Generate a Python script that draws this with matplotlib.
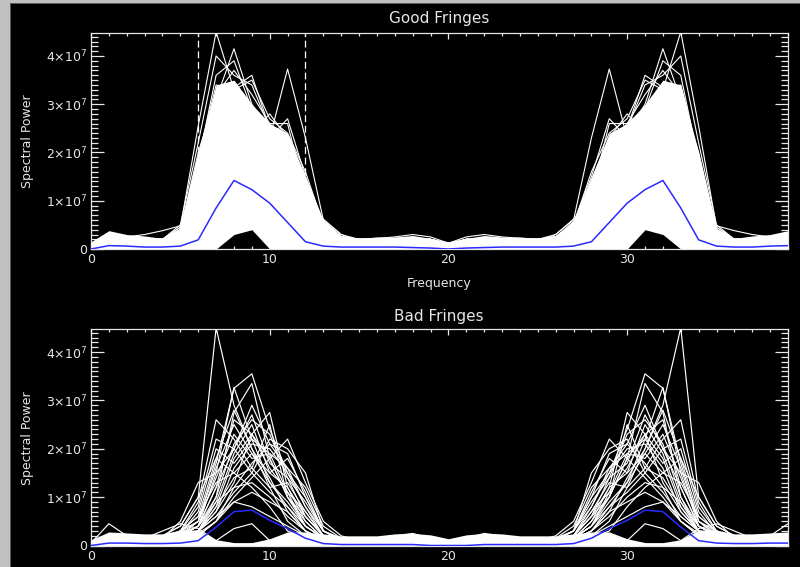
import numpy as np
import matplotlib
matplotlib.use("Agg")
import matplotlib.pyplot as plt
from matplotlib.ticker import MultipleLocator, FixedLocator, FixedFormatter
from matplotlib.patches import Rectangle

# ---------------- data (spectral power in units of 1e7) ----------------
freq = list(range(40))
UNIT = 1e7

y_ticks = [0, 1, 2, 3, 4]
y_tick_labels = ["0", r"$1{\times}10^{7}$", r"$2{\times}10^{7}$", r"$3{\times}10^{7}$", r"$4{\times}10^{7}$"]
x_ticks = [0, 10, 20, 30]
good_window = [6, 12]

# --- Good fringes ---
good_band_top = [0.15,0.38,0.30,0.27,0.22,0.42,2.00,3.40,3.50,3.00,2.60,2.40,1.50,0.60,0.28,0.22,0.25,0.25,0.28,0.22,0.15,
                 0.22,0.28,0.25,0.25,0.22,0.28,0.60,1.50,2.40,2.60,3.00,3.50,3.40,2.00,0.42,0.22,0.27,0.30,0.38]
good_band_bottom = [0,0,0,0,0,0,0,0,0.30,0.40,0,0,0,0,0,0,0,0,0,0,0,
                    0,0,0,0,0,0,0,0,0,0,0.40,0.30,0,0,0,0,0,0,0]
good_mean = [0.00,0.07,0.06,0.04,0.04,0.06,0.19,0.85,1.42,1.23,0.95,0.55,0.15,0.06,0.04,0.04,0.04,0.04,0.03,0.02,0.00,
             0.02,0.03,0.04,0.04,0.04,0.04,0.06,0.15,0.55,0.95,1.23,1.42,0.85,0.19,0.06,0.04,0.04,0.06,0.07]

good_s01 = [0.10,0.20,0.20,0.20,0.20,0.45,2.55,4.50,3.30,2.60,2.10,1.80,0.90,0.35,0.20,0.20,0.20,0.20,0.20,0.20,0.10,
            0.20,0.20,0.20,0.20,0.20,0.20,0.35,0.90,1.80,2.10,2.60,3.30,4.50,2.55,0.45,0.20,0.20,0.20,0.20]
good_s02 = [0.10,0.25,0.20,0.20,0.20,0.35,1.60,3.10,4.15,3.00,2.40,2.00,0.90,0.40,0.20,0.20,0.20,0.20,0.20,0.20,0.10,
            0.20,0.20,0.20,0.20,0.20,0.20,0.40,0.90,2.00,2.40,3.00,4.15,3.10,1.60,0.35,0.20,0.20,0.20,0.25]
good_s03 = [0.10,0.20,0.20,0.20,0.20,0.40,1.90,2.80,3.35,3.60,2.50,2.20,1.30,0.45,0.25,0.20,0.20,0.20,0.20,0.20,0.10,
            0.20,0.20,0.20,0.20,0.20,0.25,0.45,1.30,2.20,2.50,3.60,3.35,2.80,1.90,0.40,0.20,0.20,0.20,0.20]
good_s04 = [0.10,0.20,0.20,0.15,0.20,0.30,1.50,2.40,2.60,2.20,2.30,3.73,2.30,0.60,0.30,0.15,0.20,0.20,0.20,0.20,0.10,
            0.20,0.20,0.20,0.20,0.15,0.30,0.60,2.30,3.73,2.30,2.20,2.60,2.40,1.50,0.30,0.20,0.15,0.20,0.20]
good_s05 = [0.10,0.20,0.20,0.20,0.20,0.40,1.80,3.00,3.20,2.40,2.80,2.30,1.40,0.50,0.20,0.20,0.20,0.20,0.20,0.20,0.10,
            0.20,0.20,0.20,0.20,0.20,0.20,0.50,1.40,2.30,2.80,2.40,3.20,3.00,1.80,0.40,0.20,0.20,0.20,0.20]
good_s06 = [0.10,0.20,0.20,0.20,0.20,0.40,1.70,2.60,2.90,2.50,2.30,2.70,1.50,0.55,0.25,0.20,0.20,0.20,0.20,0.20,0.10,
            0.20,0.20,0.20,0.20,0.20,0.25,0.55,1.50,2.70,2.30,2.50,2.90,2.60,1.70,0.40,0.20,0.20,0.20,0.20]
good_s07 = [0.10,0.20,0.20,0.20,0.20,0.50,2.20,4.00,3.60,3.40,2.50,2.00,1.10,0.45,0.25,0.20,0.20,0.20,0.20,0.20,0.10,
            0.20,0.20,0.20,0.20,0.20,0.25,0.45,1.10,2.00,2.50,3.40,3.60,4.00,2.20,0.50,0.20,0.20,0.20,0.20]
good_s08 = [0.10,0.20,0.20,0.20,0.20,0.40,2.00,3.20,3.70,3.20,2.60,2.10,1.00,0.40,0.25,0.20,0.20,0.20,0.20,0.20,0.10,
            0.20,0.20,0.20,0.20,0.20,0.25,0.40,1.00,2.10,2.60,3.20,3.70,3.20,2.00,0.40,0.20,0.20,0.20,0.20]
good_s09 = [0.10,0.20,0.20,0.20,0.20,0.35,1.90,3.40,3.30,3.50,2.70,2.40,1.60,0.50,0.25,0.20,0.20,0.20,0.20,0.20,0.10,
            0.20,0.20,0.20,0.20,0.20,0.25,0.50,1.60,2.40,2.70,3.50,3.30,3.40,1.90,0.35,0.20,0.20,0.20,0.20]
good_s10 = [0.10,0.20,0.20,0.20,0.20,0.45,1.80,3.60,3.90,2.90,2.60,2.60,1.10,0.40,0.25,0.20,0.20,0.20,0.20,0.20,0.10,
            0.20,0.20,0.20,0.20,0.20,0.25,0.40,1.10,2.60,2.60,2.90,3.90,3.60,1.80,0.45,0.20,0.20,0.20,0.20]
good_s11 = [0.10,0.30,0.25,0.30,0.38,0.48,1.20,2.00,2.30,2.00,1.90,1.70,1.00,0.62,0.30,0.20,0.22,0.25,0.30,0.25,0.12,
            0.25,0.30,0.25,0.22,0.20,0.30,0.62,1.00,1.70,1.90,2.00,2.30,2.00,1.20,0.48,0.38,0.30,0.25,0.30]

# --- Bad fringes ---
bad_band_top = [0.12,0.28,0.26,0.24,0.24,0.32,0.32,0.12,0.06,0.06,0.14,0.28,0.28,0.24,0.20,0.20,0.20,0.24,0.25,0.22,0.14,
                0.22,0.25,0.24,0.20,0.20,0.20,0.24,0.28,0.28,0.14,0.06,0.06,0.12,0.32,0.32,0.24,0.24,0.26,0.28]
bad_mean = [0.00,0.05,0.05,0.04,0.04,0.05,0.10,0.38,0.70,0.73,0.52,0.35,0.15,0.04,0.02,0.02,0.02,0.02,0.02,0.00,0.00,
            0.00,0.02,0.02,0.02,0.02,0.02,0.04,0.15,0.35,0.52,0.73,0.70,0.38,0.10,0.05,0.04,0.04,0.05,0.05]

bad_s01 = [0.05,0.15,0.15,0.12,0.20,0.40,1.00,4.50,2.90,2.00,1.20,0.50,0.20,0.10,0.10,0.10,0.10,0.10,0.10,0.10,0.05,
           0.10,0.10,0.10,0.10,0.10,0.10,0.10,0.20,0.50,1.20,2.00,2.90,4.50,1.00,0.40,0.20,0.12,0.15,0.15]
bad_s02 = [0.05,0.10,0.15,0.12,0.15,0.30,0.50,1.70,3.25,3.55,2.40,1.50,0.80,0.20,0.10,0.10,0.10,0.10,0.10,0.10,0.05,
           0.10,0.10,0.10,0.10,0.10,0.10,0.20,0.80,1.50,2.40,3.55,3.25,1.70,0.50,0.30,0.15,0.12,0.15,0.10]
bad_s03 = [0.05,0.10,0.10,0.10,0.15,0.25,0.30,1.00,2.75,3.35,1.80,1.00,0.40,0.15,0.10,0.10,0.10,0.10,0.10,0.10,0.05,
           0.10,0.10,0.10,0.10,0.10,0.10,0.15,0.40,1.00,1.80,3.35,2.75,1.00,0.30,0.25,0.15,0.10,0.10,0.10]
bad_s04 = [0.05,0.12,0.12,0.10,0.12,0.20,0.30,0.80,1.80,2.30,2.75,1.20,0.60,0.20,0.10,0.10,0.10,0.10,0.10,0.10,0.05,
           0.10,0.10,0.10,0.10,0.10,0.10,0.20,0.60,1.20,2.75,2.30,1.80,0.80,0.30,0.20,0.12,0.10,0.12,0.12]
bad_s05 = [0.05,0.12,0.15,0.12,0.15,0.15,0.20,0.50,1.00,1.40,1.80,2.20,1.30,0.50,0.20,0.10,0.10,0.10,0.10,0.10,0.05,
           0.10,0.10,0.10,0.10,0.10,0.20,0.50,1.30,2.20,1.80,1.40,1.00,0.50,0.20,0.15,0.15,0.12,0.15,0.12]
bad_s06 = [0.05,0.15,0.12,0.12,0.15,0.30,0.60,1.80,2.80,2.00,1.40,0.70,0.30,0.12,0.10,0.10,0.10,0.10,0.10,0.10,0.05,
           0.10,0.10,0.10,0.10,0.10,0.10,0.12,0.30,0.70,1.40,2.00,2.80,1.80,0.60,0.30,0.15,0.12,0.12,0.15]
bad_s07 = [0.05,0.12,0.12,0.15,0.15,0.20,0.40,1.20,2.60,2.30,1.60,1.10,0.40,0.15,0.10,0.10,0.10,0.10,0.10,0.10,0.05,
           0.10,0.10,0.10,0.10,0.10,0.10,0.15,0.40,1.10,1.60,2.30,2.60,1.20,0.40,0.20,0.15,0.15,0.12,0.12]
bad_s08 = [0.05,0.15,0.15,0.12,0.20,0.40,1.00,1.80,1.50,1.20,0.80,0.30,0.15,0.10,0.10,0.10,0.10,0.10,0.10,0.10,0.05,
           0.10,0.10,0.10,0.10,0.10,0.10,0.10,0.15,0.30,0.80,1.20,1.50,1.80,1.00,0.40,0.20,0.12,0.15,0.15]
bad_s09 = [0.05,0.12,0.12,0.12,0.15,0.20,0.30,0.70,1.60,2.10,2.00,1.50,1.00,0.30,0.12,0.10,0.10,0.10,0.10,0.10,0.05,
           0.10,0.10,0.10,0.10,0.10,0.12,0.30,1.00,1.50,2.00,2.10,1.60,0.70,0.30,0.20,0.15,0.12,0.12,0.12]
bad_s10 = [0.05,0.12,0.12,0.12,0.12,0.15,0.25,0.50,1.20,1.70,2.10,1.60,1.20,0.40,0.15,0.10,0.10,0.10,0.10,0.10,0.05,
           0.10,0.10,0.10,0.10,0.10,0.15,0.40,1.20,1.60,2.10,1.70,1.20,0.50,0.25,0.15,0.12,0.12,0.12,0.12]
bad_s11 = [0.05,0.12,0.15,0.12,0.15,0.20,0.30,0.90,1.90,2.50,1.50,1.20,0.50,0.15,0.10,0.10,0.10,0.10,0.10,0.10,0.05,
           0.10,0.10,0.10,0.10,0.10,0.10,0.15,0.50,1.20,1.50,2.50,1.90,0.90,0.30,0.20,0.15,0.12,0.15,0.12]
bad_s12 = [0.05,0.15,0.12,0.12,0.15,0.25,0.50,1.40,2.30,1.80,1.90,1.60,0.80,0.30,0.12,0.10,0.10,0.10,0.10,0.10,0.05,
           0.10,0.10,0.10,0.10,0.10,0.12,0.30,0.80,1.60,1.90,1.80,2.30,1.40,0.50,0.25,0.15,0.12,0.12,0.15]
bad_s13 = [0.05,0.12,0.12,0.12,0.15,0.30,0.60,1.30,1.50,1.90,1.30,0.90,0.40,0.15,0.10,0.10,0.10,0.10,0.10,0.10,0.05,
           0.10,0.10,0.10,0.10,0.10,0.10,0.15,0.40,0.90,1.30,1.90,1.50,1.30,0.60,0.30,0.15,0.12,0.12,0.12]
bad_s14 = [0.05,0.12,0.12,0.12,0.12,0.20,0.30,0.80,1.40,1.60,1.20,1.30,0.70,0.20,0.10,0.10,0.10,0.10,0.10,0.10,0.05,
           0.10,0.10,0.10,0.10,0.10,0.10,0.20,0.70,1.30,1.20,1.60,1.40,0.80,0.30,0.20,0.12,0.12,0.12,0.12]
bad_s15 = [0.05,0.12,0.12,0.12,0.15,0.20,0.40,0.90,1.20,1.30,1.00,0.60,0.30,0.12,0.10,0.10,0.10,0.10,0.10,0.10,0.05,
           0.10,0.10,0.10,0.10,0.10,0.10,0.12,0.30,0.60,1.00,1.30,1.20,0.90,0.40,0.20,0.15,0.12,0.12,0.12]
bad_s16 = [0.05,0.12,0.12,0.12,0.12,0.15,0.20,0.50,0.90,1.10,0.90,0.70,0.30,0.12,0.10,0.10,0.10,0.10,0.10,0.10,0.05,
           0.10,0.10,0.10,0.10,0.10,0.10,0.12,0.30,0.70,0.90,1.10,0.90,0.50,0.20,0.15,0.12,0.12,0.12,0.12]
bad_s17 = [0.05,0.12,0.12,0.12,0.12,0.20,0.30,0.60,0.90,0.80,0.60,0.40,0.20,0.10,0.10,0.10,0.10,0.10,0.10,0.10,0.05,
           0.10,0.10,0.10,0.10,0.10,0.10,0.10,0.20,0.40,0.60,0.80,0.90,0.60,0.30,0.20,0.12,0.12,0.12,0.12]
bad_s18 = [0.05,0.45,0.20,0.15,0.30,0.45,0.35,0.10,0.35,0.45,0.10,0.12,0.15,0.12,0.10,0.12,0.15,0.20,0.25,0.15,0.05,
           0.15,0.25,0.20,0.15,0.12,0.10,0.12,0.15,0.12,0.10,0.45,0.35,0.10,0.35,0.45,0.30,0.15,0.20,0.45]
bad_s19 = [0.05,0.12,0.12,0.12,0.15,0.30,0.90,2.60,2.20,1.60,2.50,1.00,0.50,0.15,0.10,0.10,0.10,0.10,0.10,0.10,0.05,
           0.10,0.10,0.10,0.10,0.10,0.10,0.15,0.50,1.00,2.50,1.60,2.20,2.60,0.90,0.30,0.15,0.12,0.12,0.12]
bad_s20 = [0.05,0.12,0.12,0.12,0.15,0.25,0.40,1.50,3.27,2.20,1.30,0.80,0.30,0.12,0.10,0.10,0.10,0.10,0.10,0.10,0.05,
           0.10,0.10,0.10,0.10,0.10,0.10,0.12,0.30,0.80,1.30,2.20,3.27,1.50,0.40,0.25,0.15,0.12,0.12,0.12]
bad_s21 = [0.05,0.12,0.12,0.12,0.12,0.20,0.40,1.20,2.00,2.90,2.10,1.90,1.00,0.30,0.12,0.10,0.10,0.10,0.10,0.10,0.05,
           0.10,0.10,0.10,0.10,0.10,0.12,0.30,1.00,1.90,2.10,2.90,2.00,1.20,0.40,0.20,0.12,0.12,0.12,0.12]
bad_s22 = [0.05,0.12,0.12,0.12,0.12,0.15,0.30,0.60,1.10,1.50,2.20,2.00,1.50,0.30,0.15,0.10,0.10,0.10,0.10,0.10,0.05,
           0.10,0.10,0.10,0.10,0.10,0.15,0.30,1.50,2.00,2.20,1.50,1.10,0.60,0.30,0.15,0.12,0.12,0.12,0.12]
bad_s23 = [0.05,0.12,0.12,0.12,0.15,0.30,0.80,2.20,2.00,2.70,1.70,1.40,0.60,0.20,0.12,0.10,0.10,0.10,0.10,0.10,0.05,
           0.10,0.10,0.10,0.10,0.10,0.12,0.20,0.60,1.40,1.70,2.70,2.00,2.20,0.80,0.30,0.15,0.12,0.12,0.12]
bad_s24 = [0.05,0.12,0.12,0.12,0.15,0.20,0.50,1.60,2.50,1.90,1.50,1.80,1.10,0.30,0.12,0.10,0.10,0.10,0.10,0.10,0.05,
           0.10,0.10,0.10,0.10,0.10,0.12,0.30,1.10,1.80,1.50,1.90,2.50,1.60,0.50,0.20,0.15,0.12,0.12,0.12]
bad_s25 = [0.05,0.12,0.12,0.12,0.15,0.25,0.70,2.00,1.70,2.20,1.90,1.10,0.70,0.20,0.12,0.10,0.10,0.10,0.10,0.10,0.05,
           0.10,0.10,0.10,0.10,0.10,0.12,0.20,0.70,1.10,1.90,2.20,1.70,2.00,0.70,0.25,0.15,0.12,0.12,0.12]
bad_s26 = [0.05,0.12,0.12,0.12,0.15,0.20,0.40,1.00,2.10,2.60,2.30,1.40,0.90,0.30,0.12,0.10,0.10,0.10,0.10,0.10,0.05,
           0.10,0.10,0.10,0.10,0.10,0.12,0.30,0.90,1.40,2.30,2.60,2.10,1.00,0.40,0.20,0.15,0.12,0.12,0.12]
bad_s27 = [0.05,0.12,0.12,0.12,0.15,0.50,1.30,1.50,2.00,1.50,1.10,0.80,0.40,0.15,0.12,0.10,0.10,0.10,0.10,0.10,0.05,
           0.10,0.10,0.10,0.10,0.10,0.12,0.15,0.40,0.80,1.10,1.50,2.00,1.50,1.30,0.50,0.15,0.12,0.12,0.12]
bad_s28 = [0.05,0.12,0.12,0.12,0.15,0.20,0.30,0.70,1.30,2.30,1.80,1.00,0.60,0.20,0.12,0.10,0.10,0.10,0.10,0.10,0.05,
           0.10,0.10,0.10,0.10,0.10,0.12,0.20,0.60,1.00,1.80,2.30,1.30,0.70,0.30,0.20,0.15,0.12,0.12,0.12]

good_lines = [good_s01, good_s02, good_s03, good_s04, good_s05, good_s06,
              good_s07, good_s08, good_s09, good_s10, good_s11]
bad_lines = [bad_s01, bad_s02, bad_s03, bad_s04, bad_s05, bad_s06, bad_s07, bad_s08,
             bad_s09, bad_s10, bad_s11, bad_s12, bad_s13, bad_s14, bad_s15, bad_s16,
             bad_s17, bad_s18, bad_s19, bad_s20, bad_s21, bad_s22, bad_s23, bad_s24,
             bad_s25, bad_s26, bad_s27, bad_s28]

# ---------------- figure ----------------
W, H = 800, 567
fig = plt.figure(figsize=(8.0, 5.67), dpi=100, facecolor="black")

# grey window frame (left and top edges)
fig.add_artist(Rectangle((0, 0), 10 / W, 1, transform=fig.transFigure,
                         facecolor="#c0c0c0", edgecolor="none", zorder=0))
fig.add_artist(Rectangle((10 / W, 0), 1.2 / W, 1 - 3 / H, transform=fig.transFigure,
                         facecolor="#5a5a5a", edgecolor="none", zorder=0))
fig.add_artist(Rectangle((0, 1 - 3 / H), 1, 3 / H, transform=fig.transFigure,
                         facecolor="#c0c0c0", edgecolor="none", zorder=0))
fig.add_artist(Rectangle((10 / W, 1 - 4 / H), 1, 1.2 / H, transform=fig.transFigure,
                         facecolor="#5a5a5a", edgecolor="none", zorder=0))

FG = "#e6e6e6"
BLUE = "#2a2aff"

def px_axes(left, top, right, bottom):
    return fig.add_axes([left / W, 1 - bottom / H, (right - left) / W, (bottom - top) / H])

def style(ax):
    ax.set_facecolor("black")
    ax.set_xlim(0, 39)
    ax.set_ylim(0, 4.47 * UNIT)
    for s in ax.spines.values():
        s.set_color(FG)
        s.set_linewidth(0.9)
    ax.xaxis.set_major_locator(FixedLocator(x_ticks))
    ax.xaxis.set_minor_locator(MultipleLocator(1))
    ax.yaxis.set_major_locator(FixedLocator([t * UNIT for t in y_ticks]))
    ax.yaxis.set_major_formatter(FixedFormatter(y_tick_labels))
    ax.yaxis.set_minor_locator(MultipleLocator(0.1 * UNIT))
    ax.tick_params(which="both", direction="in", top=True, right=True, colors=FG,
                   labelcolor=FG, labelsize=9, width=0.9)
    ax.tick_params(axis="x", which="major", length=4.3, pad=3)
    ax.tick_params(axis="x", which="minor", length=2.5)
    ax.tick_params(axis="y", which="major", length=9.4, pad=3)
    ax.tick_params(axis="y", which="minor", length=5.0)

x = np.array(freq)

# ---- top: Good Fringes ----
ax1 = px_axes(91, 33.3, 788, 249)
style(ax1)
for g in good_window:
    ax1.axvline(g, color="white", lw=0.9, dashes=(5.5, 3.0), zorder=1)
ax1.fill_between(x, np.array(good_band_bottom) * UNIT, np.array(good_band_top) * UNIT,
                 color="white", lw=0, zorder=2)
for s in good_lines:
    ax1.plot(x, np.array(s) * UNIT, color="white", lw=0.8, zorder=3)
ax1.plot(x, np.array(good_mean) * UNIT, color=BLUE, lw=1.1, zorder=5)

# ---- bottom: Bad Fringes ----
ax2 = px_axes(91, 329.3, 788, 545.5)
style(ax2)
ax2.fill_between(x, 0, np.array(bad_band_top) * UNIT, color="white", lw=0, zorder=2)
for s in bad_lines:
    ax2.plot(x, np.array(s) * UNIT, color="white", lw=0.85, zorder=3)
ax2.plot(x, np.array(bad_mean) * UNIT, color=BLUE, lw=1.1, zorder=5)

# ---- texts ----
fig.text(439 / W, 1 - 19 / H, "Good Fringes", color=FG, fontsize=11, ha="center", va="center")
fig.text(439 / W, 1 - 316 / H, "Bad Fringes", color=FG, fontsize=11, ha="center", va="center")
fig.text(439 / W, 1 - 283 / H, "Frequency", color=FG, fontsize=9, ha="center", va="center")
fig.text(27.5 / W, 1 - 141 / H, "Spectral Power", color=FG, fontsize=9, ha="center",
         va="center", rotation=90)
fig.text(27.5 / W, 1 - 438 / H, "Spectral Power", color=FG, fontsize=9, ha="center",
         va="center", rotation=90)

fig.savefig("out.png", dpi=100, facecolor="black")
